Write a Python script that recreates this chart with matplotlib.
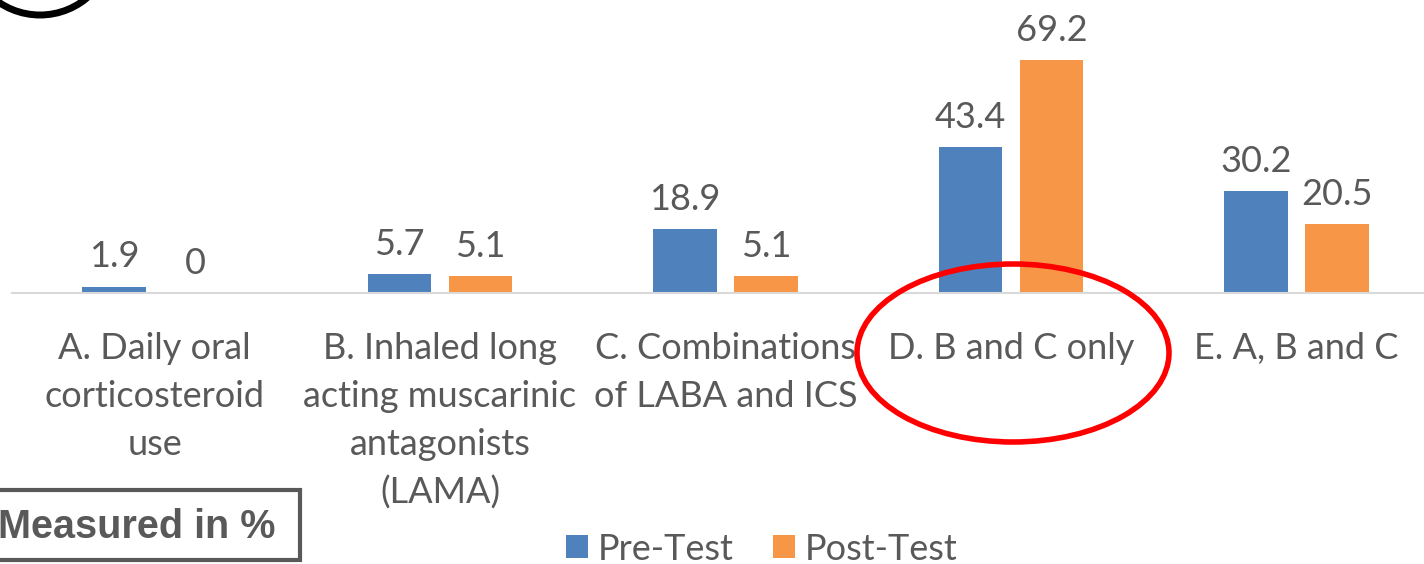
import matplotlib
matplotlib.use("Agg")
import matplotlib.pyplot as plt
import numpy as np
from matplotlib.patches import Ellipse, Rectangle

# ========== Data ==========
categories = [
    "A. Daily oral\ncorticosteroid\nuse",
    "B. Inhaled long\nacting muscarinic\nantagonists\n(LAMA)",
    "C. Combinations\nof LABA and ICS",
    "D. B and C only",
    "E. A, B and C",
]
pre_test = [1.9, 5.7, 18.9, 43.4, 30.2]
post_test = [0, 5.1, 5.1, 69.2, 20.5]
series_names = ["Pre-Test", "Post-Test"]

BLUE = "#4f81bd"
ORANGE = "#f79646"
GRAY = "#595959"
FONT = "Lato"

W, H = 1424, 564
fig = plt.figure(figsize=(W / 100, H / 100), dpi=100)
plt.rcParams["font.family"] = [FONT, "DejaVu Sans"]

# axes in pixel terms: left 11.75, category width 285.5, baseline at y=293
ax = fig.add_axes([11.75 / W, 1 - 293 / H, 1427.5 / W, 269.4 / H])
x = np.arange(len(categories))
bw = 0.221
off = 0.142
b1 = ax.bar(x - off, pre_test, bw, color=BLUE, label=series_names[0])
b2 = ax.bar(x + off, post_test, bw, color=ORANGE, label=series_names[1])
ax.set_xlim(-0.5, len(categories) - 0.5)
ax.set_ylim(0, 80)

for bars, vals in ((b1, pre_test), (b2, post_test)):
    for r, v in zip(bars, vals):
        ax.annotate(f"{v:g}", (r.get_x() + r.get_width() / 2, r.get_height()),
                    xytext=(0, 9.5), textcoords="offset points",
                    ha="center", va="bottom", fontsize=26, color=GRAY)

for s in ["top", "right", "left"]:
    ax.spines[s].set_visible(False)
ax.spines["bottom"].set_color("#d9d9d9")
ax.spines["bottom"].set_linewidth(1.5)
ax.set_yticks([])
ax.set_xticks(x)
ax.set_xticklabels(categories, fontsize=26, color=GRAY, linespacing=1.55)
ax.tick_params(axis="x", length=0, pad=28)

fig.legend(loc="center", bbox_to_anchor=(762 / W, 1 - 549 / H), ncol=2,
           frameon=False, fontsize=26, labelcolor=GRAY, handlelength=0.6,
           handleheight=0.6, handletextpad=0.28, columnspacing=1.1,
           borderpad=0, borderaxespad=0)

# "Measured in %" box
fig.patches.append(Rectangle((-10 / W, 1 - 560 / H), 310 / W, 70 / H,
                             transform=fig.transFigure, fill=False,
                             ec=GRAY, lw=3))
fig.text(-2 / W, 1 - 527 / H, "Measured in %", fontsize=28.5, fontweight="bold",
         color=GRAY, family="Liberation Sans", va="center", ha="left")

# red ellipse around D
fig.patches.append(Ellipse((1013 / W, 1 - 353 / H), 312 / W, 178 / H,
                           transform=fig.transFigure, fill=False,
                           ec="#ff0000", lw=4))
# partial black circle at top-left
fig.patches.append(Ellipse((40 / W, 1 + 58 / H), 146 / W, 146 / H,
                           transform=fig.transFigure, fill=False,
                           ec="black", lw=5))

fig.savefig("out.png", dpi=100)
